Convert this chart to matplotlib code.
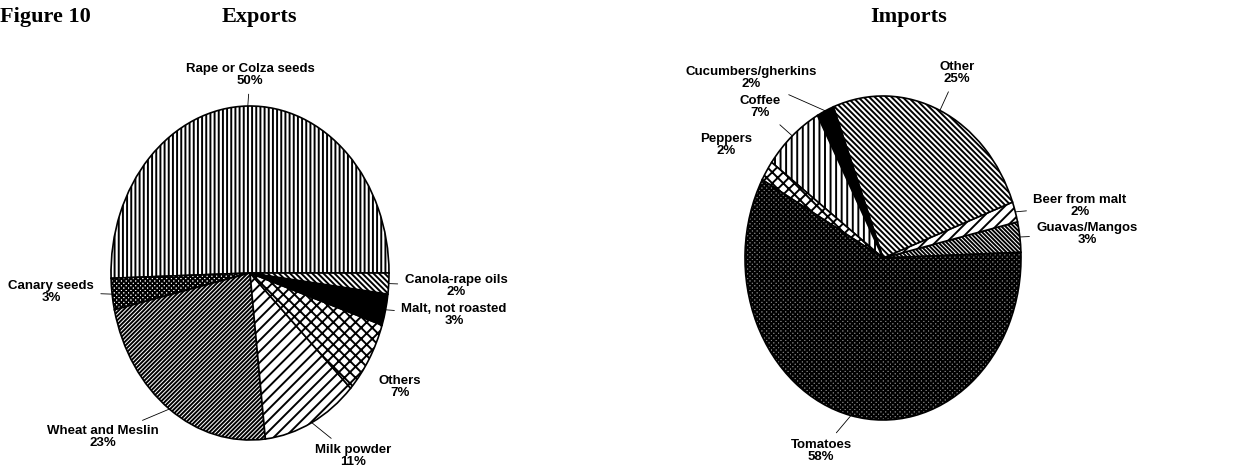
import matplotlib
matplotlib.use("Agg")
import matplotlib.pyplot as plt
import numpy as np

plt.rcParams['hatch.linewidth'] = 1.4

# Exports (percent shares)
exp_labels = ["Rape or Colza seeds", "Canary seeds", "Wheat and Meslin", "Milk powder",
              "Others", "Malt, not roasted", "Canola-rape oils"]
exp_values = [50, 3, 23, 11, 7, 3, 2]
exp_hatch = ['||||', 'xxxxxxx', '////////', '///', 'xxx', '', '\\' * 6]
exp_face = ['white', 'white', 'white', 'white', 'white', 'black', 'white']

# Imports (percent shares)
imp_labels = ["Guavas/Mangos", "Beer from malt", "Other", "Cucumbers/gherkins",
              "Coffee", "Peppers", "Tomatoes"]
imp_values = [3, 2, 25, 2, 7, 2, 58]
imp_hatch = ['\\' * 8, '///', '\\' * 6, '', '|||', 'xxx', 'xxxxxxx']
imp_face = ['white', 'white', 'white', 'black', 'white', 'white', '#808080']

W, H = 1236, 472
fig = plt.figure(figsize=(W / 100, H / 100), dpi=100)

lab_font = dict(family='Liberation Sans', fontweight='bold', fontsize=9.5)
title_font = dict(family='Liberation Serif', fontweight='bold', fontsize=16)


def draw_pie(cx, cy, rx, ry, x0, x1, values, hatches, faces, start):
    ax = fig.add_axes([x0 / W, 0, (x1 - x0) / W, 1])
    wedges, _ = ax.pie(values, startangle=start, counterclock=True, radius=1,
                       wedgeprops=dict(edgecolor='black', linewidth=1.2))
    for w, h, f in zip(wedges, hatches, faces):
        w.set_facecolor(f)
        w.set_hatch(h)
    # stretch to the elliptical shape of the scanned original
    ax.set_aspect('auto')
    ax.set_xlim((x0 - cx) / rx, (x1 - cx) / rx)
    ax.set_ylim((cy - H) / ry, cy / ry)
    ax.axis('off')
    return ax, wedges


def label(ax, wedge, text, pos, leader=True):
    mid = np.deg2rad((wedge.theta1 + wedge.theta2) / 2)
    xy = (np.cos(mid), np.sin(mid))
    arrow = dict(arrowstyle='-', lw=0.6, color='black', shrinkA=3, shrinkB=0) if leader else None
    ax.annotate(text, xy=xy, xycoords='data', xytext=(pos[0], H - pos[1]),
                textcoords='figure pixels', ha='center', va='center',
                linespacing=1.05, arrowprops=arrow, **lab_font)


# Exports
ax1, w1 = draw_pie(250, 273, 139, 167, 0, 618, exp_values, exp_hatch, exp_face, 0)
exp_pos = [(250, 75), (51, 292), (103, 437), (353, 456), (400, 387), (454, 315), (456, 286)]
exp_lead = [True, True, True, True, False, True, True]
for w, name, v, p, ld in zip(w1, exp_labels, exp_values, exp_pos, exp_lead):
    label(ax1, w, f"{name}\n{v}%", p, ld)

# Imports
ax2, w2 = draw_pie(883, 258, 138, 162, 618, 1236, imp_values, imp_hatch, imp_face, 2)
imp_pos = [(1087, 234), (1080, 206), (957, 73), (751, 78), (760, 107), (726, 145), (821, 451)]
imp_lead = [True, True, True, True, True, False, True]
for w, name, v, p, ld in zip(w2, imp_labels, imp_values, imp_pos, imp_lead):
    label(ax2, w, f"{name}\n{v}%", p, ld)

# Titles
fig.text(0, 1 - 17 / H, "Figure 10", ha='left', va='center', **title_font)
fig.text(259 / W, 1 - 17 / H, "Exports", ha='center', va='center', **title_font)
fig.text(909 / W, 1 - 17 / H, "Imports", ha='center', va='center', **title_font)

fig.savefig("out.png", dpi=100, facecolor='white')
